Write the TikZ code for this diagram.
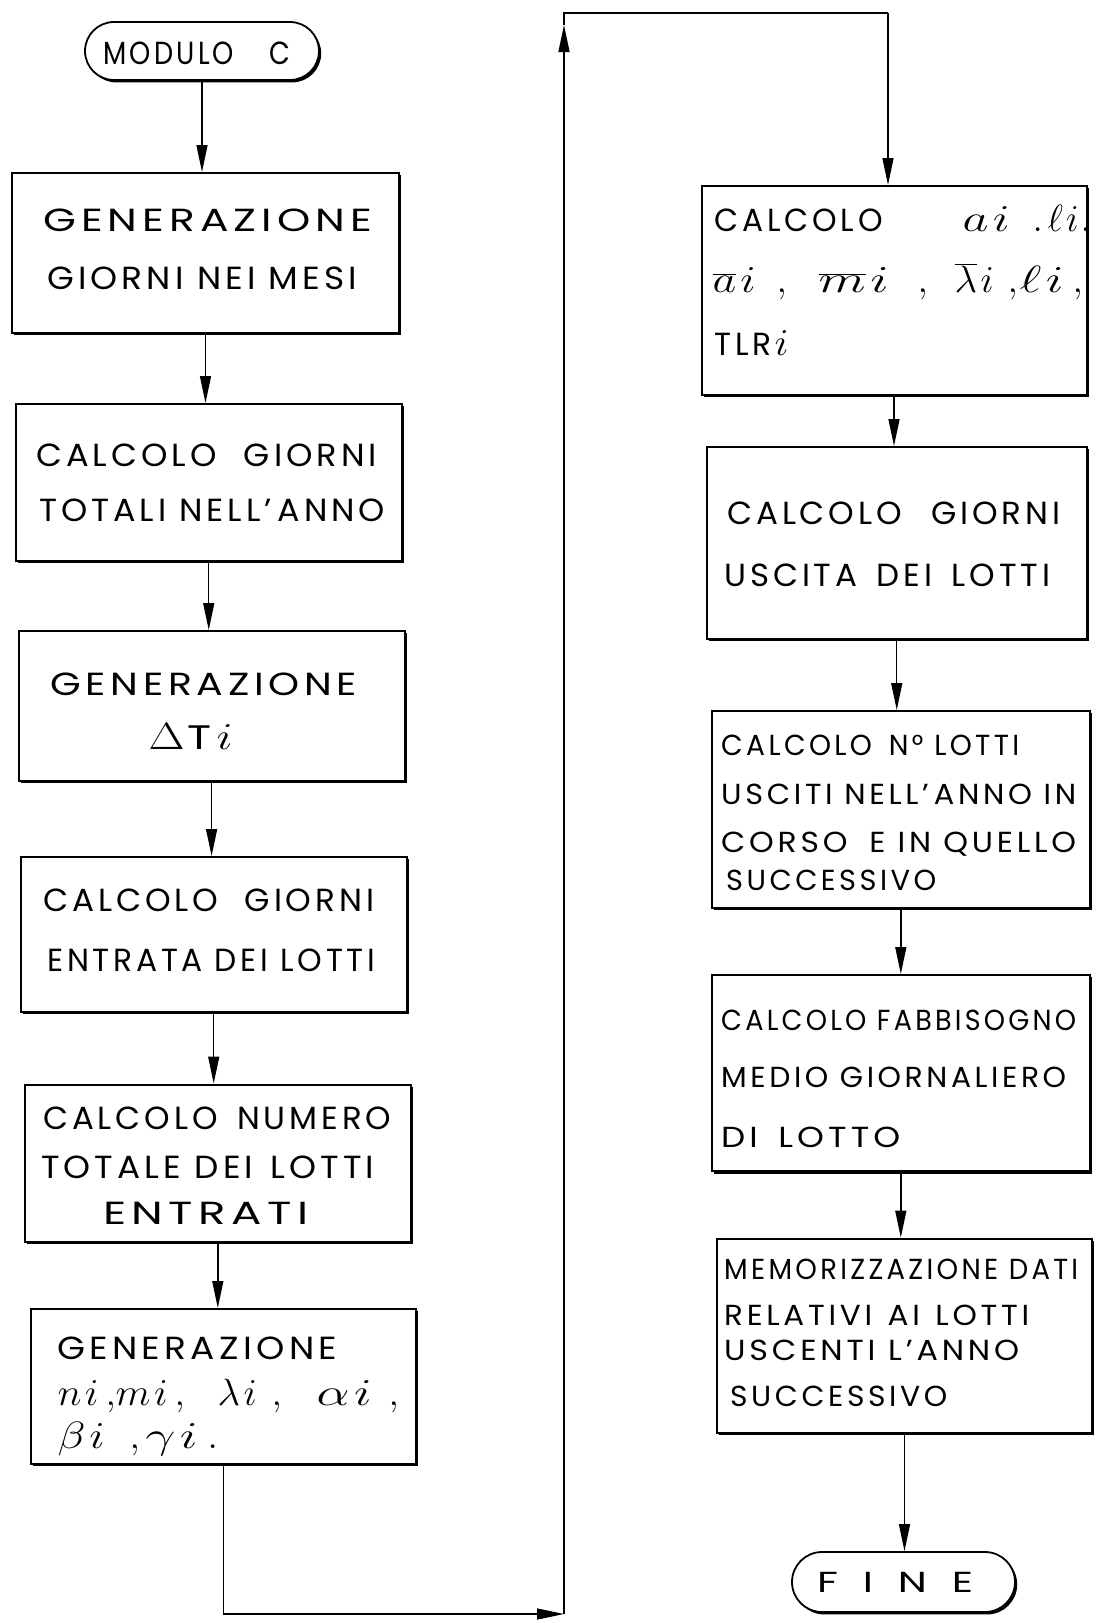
\documentclass[tikz,border=0pt]{standalone}
\usepackage{fix-cm}
\usepackage{graphicx}
\usepackage{fontspec}
\setmainfont{Poppins}[LetterSpace=12]
\usetikzlibrary{arrows.meta,shapes.misc,shadows}

% set a line of lettering to an exact width by scaling it horizontally
\newlength\fitwd
\newcommand\fitline[2]{\settowidth\fitwd{#2}\pgfmathsetmacro\fitratio{#1/\fitwd}\scalebox{\fitratio}[1]{#2}}
% symbols written a little larger than the capitals
\newcommand\hmath[1]{{\fontsize{38}{44}\selectfont$#1$}}
% a symbol followed by its index, stretched to a given width
\newcommand\symi[2]{\fitline{#1}{\hmath{#2\mkern1.5mu i}}}
% put a piece of a line at a given offset from the start of the line
\newcommand\putat[2]{\rlap{\hspace*{#1pt}#2}}

\begin{document}
\begin{tikzpicture}[x=1pt,y=-1pt,
  rim/.style={drop shadow={shadow xshift=2.2pt,shadow yshift=-2.4pt,fill=black,opacity=1}},
  procbox/.style={rectangle,draw=black,line width=2pt,fill=white,inner sep=0pt,rim},
  termbox/.style={rounded rectangle,draw=black,line width=1.8pt,fill=white,inner sep=0pt,rim},
  lbl/.style={anchor=base west,inner sep=0pt,font=\fontsize{32}{38}\selectfont},
  lbls/.style={lbl,font=\fontsize{29}{34}\selectfont},
  wire/.style={line width=1.4pt},
  flow/.style={wire,-{Triangle[length=27pt,width=11pt]}}]

\fill[white] (0,0) rectangle (1101,1623);
\useasboundingbox (0,0) rectangle (1101,1623);

% ---- left column ----
\node[termbox,minimum width=234pt,minimum height=58pt] (m) at (202,51) {};
\node[procbox,minimum width=387pt,minimum height=160pt] (b1) at (205.5,253) {};
\node[procbox,minimum width=385.5pt,minimum height=157pt] (b2) at (208.75,482.5) {};
\node[procbox,minimum width=386pt,minimum height=150pt] (b3) at (211.6,706) {};
\node[procbox,minimum width=386pt,minimum height=155pt] (b4) at (213.7,934.5) {};
\node[procbox,minimum width=386pt,minimum height=157.5pt] (b5) at (217.8,1163.25) {};
\node[procbox,minimum width=385pt,minimum height=155pt] (b6) at (223.5,1386.5) {};

% ---- right column ----
\node[procbox,minimum width=385pt,minimum height=209pt] (b7) at (894,290.5) {};
\node[procbox,minimum width=379.5pt,minimum height=191.5pt] (b8) at (896.75,542.75) {};
\node[procbox,minimum width=377.6pt,minimum height=196.5pt] (b9) at (900.8,809.25) {};
\node[procbox,minimum width=377.6pt,minimum height=196.4pt] (b10) at (900.8,1073.2) {};
\node[procbox,minimum width=375pt,minimum height=194.4pt] (b11) at (904.5,1335.8) {};
\node[termbox,minimum width=223pt,minimum height=60pt] (f) at (903.5,1582) {};

% ---- lettering ----
\node[lbl] (mt) at (103,64) {\fitline{187}{MODULO\hspace{1.3em}C}};

\node[lbl] (b1a) at (43,231) {\fitline{329}{GENERAZIONE}};
\node[lbl] (b1b) at (47,289) {\fitline{310}{GIORNI NEI MESI}};

\node[lbl] (b2a) at (36,466) {\fitline{341}{CALCOLO\hspace{0.8em}GIORNI}};
\node[lbl] (b2b) at (39,521) {\fitline{346}{TOTALI NELL'\,ANNO}};

\node[lbl] (b3a) at (50,695) {\fitline{307}{GENERAZIONE}};
\node[lbl] (b3b) at (148,749) {\putat{0}{\fitline{36}{\hmath{\Delta}}}\putat{39}{\fitline{24}{\fontsize{34}{40}\selectfont T}}\putat{68}{\fitline{16}{\hmath{i}}}};

\node[lbl] (b4a) at (43,911) {\fitline{331}{CALCOLO\hspace{0.8em}GIORNI}};
\node[lbl] (b4b) at (47,971) {\fitline{328}{ENTRATA DEI LOTTI}};

\node[lbl] (b5a) at (43,1129) {\fitline{348}{CALCOLO\hspace{0.6em}NUMERO}};
\node[lbl] (b5b) at (41,1178) {\fitline{333}{TOTALE DEI\hspace{0.5em}LOTTI}};
\node[lbl] (b5c) at (103,1224) {\fitline{205}{ENTRATI}};

\node[lbl] (b6a) at (57,1359) {\fitline{280}{GENERAZIONE}};
\node[lbl] (b6b) at (57,1405) {\putat{0}{\symi{41}{n}}\putat{48}{\hmath{,}}\putat{58}{\symi{52}{m}}\putat{117}{\hmath{,}}\putat{160}{\symi{39}{\lambda}}\putat{214}{\hmath{,}}\putat{259}{\symi{55}{\alpha}}\putat{331}{\hmath{,}}};
\node[lbl] (b6c) at (57,1448) {\putat{0}{\symi{47}{\beta}}\putat{72}{\hmath{,}}\putat{88}{\symi{52}{\gamma}}\putat{150}{\hmath{.}}};

\node[lbl] (b7a) at (714,231) {\putat{0}{\fitline{168}{CALCOLO}}\putat{248}{\symi{47}{a}}\putat{318}{\hmath{.}}\putat{333}{\symi{31}{\ell}}\putat{366}{\hmath{.}}};
\node[lbl] (b7b) at (712,292) {\putat{0}{\symi{43}{\overline{a}}}\putat{64}{\hmath{,}}\putat{106}{\symi{70}{\overline{m}}}\putat{205}{\hmath{,}}\putat{242}{\symi{39}{\overline{\lambda}}}\putat{295}{\hmath{,}}\putat{307}{\symi{44}{\ell}}\putat{360}{\hmath{,}}};
\node[lbl] (b7c) at (714,355) {\putat{0}{\fitline{57}{TLR}}\putat{60}{\fitline{14}{\hmath{i}}}};

\node[lbl] (b8a) at (727,524) {\fitline{333}{CALCOLO\hspace{0.9em}GIORNI}};
\node[lbl] (b8b) at (724,586) {\fitline{326}{USCITA\hspace{0.6em}DEI\hspace{0.6em}LOTTI}};

\node[lbls] (b9a) at (721,755) {\fitline{298}{CALCOLO\hspace{0.6em}N° LOTTI}};
\node[lbls] (b9b) at (721,804) {\fitline{355}{USCITI NELL'\,ANNO IN}};
\node[lbls] (b9c) at (721,852) {\fitline{355}{CORSO\hspace{0.7em}E IN QUELLO}};
\node[lbls] (b9d) at (726,890) {\fitline{210}{SUCCESSIVO}};

\node[lbls] (b10a) at (721,1030) {\fitline{355}{CALCOLO FABBISOGNO}};
\node[lbls] (b10b) at (721,1087) {\fitline{345}{MEDIO GIORNALIERO}};
\node[lbls] (b10c) at (721,1147) {\fitline{179}{DI\hspace{0.6em}LOTTO}};

\node[lbls] (b11a) at (724,1279) {\fitline{354}{MEMORIZZAZIONE DATI}};
\node[lbls] (b11b) at (724,1325) {\fitline{305}{RELATIVI\hspace{0.5em}AI\hspace{0.5em}LOTTI}};
\node[lbls] (b11c) at (724,1360) {\fitline{295}{USCENTI\hspace{0.4em}L'ANNO}};
\node[lbls] (b11d) at (730,1406) {\fitline{217}{SUCCESSIVO}};

\node[lbls] (ft) at (817,1592) {\fitline{156}{F\hspace{0.6em}I\hspace{0.6em}N\hspace{0.6em}E}};

% ---- connectors ----
\draw[flow] (m.south) -- (m.south |- b1.north);
\draw[flow] (b1.south) -- (b1.south |- b2.north);
\draw[flow] (b2.south) -- (b2.south |- b3.north);
\draw[flow] (b3.south) -- (b3.south |- b4.north);
\draw[flow] (b4.south) -- (b4.south |- b5.north);
\draw[flow] (b5.south) -- (b5.south |- b6.north);

% loop from the foot of the left column to the head of the right one
\coordinate (lp1) at (564,1614);
\coordinate (lp2) at (564,25);
\coordinate (lp3) at (564,13);
\coordinate (lp4) at (888,13);
\draw[flow] (b6.south) |- (lp1);
\draw[flow] (lp1) -- (lp2);
\draw[wire] (lp2) -- (lp3) -- (lp4);
\draw[flow] (lp4) -- (lp4 |- b7.north);

\draw[flow] (b7.south) -- (b7.south |- b8.north);
\draw[flow] (b8.south) -- (b8.south |- b9.north);
\draw[flow] (b9.south) -- (b9.south |- b10.north);
\draw[flow] (b10.south) -- (b10.south |- b11.north);
\draw[flow] (b11.south) -- (b11.south |- f.north);
\end{tikzpicture}
\end{document}
